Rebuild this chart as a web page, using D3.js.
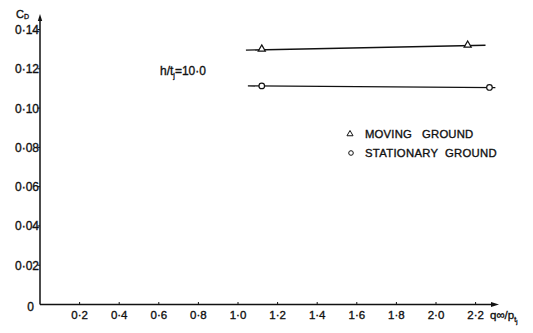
<!DOCTYPE html>
<html>
<head>
<meta charset="utf-8">
<script src="https://cdn.jsdelivr.net/npm/d3@7"></script>
<style>
  html, body { margin: 0; padding: 0; background: #fff; }
  svg text { font-family: "Liberation Sans", "DejaVu Sans", sans-serif; fill: #111; stroke: #111; stroke-width: 0.35; white-space: pre; }
</style>
</head>
<body>
<svg id="chart" width="533" height="333"></svg>
<script>
// Drag coefficient against dynamic-to-jet pressure ratio, h/t_j = 10.0
const xTicks = [0.2, 0.4, 0.6, 0.8, 1.0, 1.2, 1.4, 1.6, 1.8, 2.0, 2.2];
const xTickLabels = ["0·2", "0·4", "0·6", "0·8", "1·0", "1·2", "1·4", "1·6", "1·8", "2·0", "2·2"];
const yTicks = [0, 0.02, 0.04, 0.06, 0.08, 0.10, 0.12, 0.14];
const yTickLabels = ["0", "0·02", "0·04", "0·06", "0·08", "0·10", "0·12", "0·14"];

// measured points
const movingQ = [1.12, 2.16];
const movingCd = [0.1298, 0.1318];
const stationaryQ = [1.12, 2.27];
const stationaryCd = [0.1113, 0.1105];

// faired lines through each set
const movingFitQ = [1.04, 2.25];
const movingFitCd = [0.1295, 0.1320];
const stationaryFitQ = [1.05, 2.30];
const stationaryFitCd = [0.1113, 0.1104];

const svg = d3.select("#chart");
const ink = "#111";

const x = d3.scaleLinear().domain([0, 2.2]).range([40, 475.6]);
const y = d3.scaleLinear().domain([0, 0.14]).range([304.5, 29.5]);

// axes with arrowheads
svg.append("line").attr("x1", x(0)).attr("x2", 493).attr("y1", y(0)).attr("y2", y(0))
  .attr("stroke", ink).attr("stroke-width", 1.5);
svg.append("path").attr("d", `M499,${y(0)} L491,${y(0) - 2.5} L491,${y(0) + 2.5} Z`).attr("fill", ink);
svg.append("line").attr("x1", x(0)).attr("x2", x(0)).attr("y1", y(0)).attr("y2", 20)
  .attr("stroke", ink).attr("stroke-width", 1.5);
svg.append("path").attr("d", `M${x(0)},14 L${x(0) - 2.2},21 L${x(0) + 2.2},21 Z`).attr("fill", ink);

// x ticks and labels
const xg = svg.append("g");
xTicks.forEach((t, i) => {
  xg.append("line").attr("x1", x(t)).attr("x2", x(t)).attr("y1", y(0)).attr("y2", y(0) - 2.5)
    .attr("stroke", ink).attr("stroke-width", 1);
  xg.append("text").attr("x", x(t)).attr("y", 319).attr("text-anchor", "middle")
    .attr("font-size", 11.5).text(xTickLabels[i]);
});

// y ticks and labels
const yg = svg.append("g");
yTicks.forEach((t, i) => {
  if (t > 0) {
    yg.append("line").attr("x1", x(0) - 2.5).attr("x2", x(0)).attr("y1", y(t)).attr("y2", y(t))
      .attr("stroke", ink).attr("stroke-width", 1);
  }
  yg.append("text").attr("x", t === 0 ? 34 : 39).attr("y", t === 0 ? y(t) + 6 : y(t) + 4.5)
    .attr("text-anchor", "end").attr("font-size", 12).text(yTickLabels[i]);
});

// axis titles
const cd = svg.append("text").attr("x", 16).attr("y", 18).attr("font-size", 11);
cd.append("tspan").text("C");
cd.append("tspan").attr("font-size", 7).attr("dy", 1).text("D");

const xt = svg.append("text").attr("x", 490).attr("y", 319).attr("font-size", 11.5);
xt.append("tspan").text("q∞/p");
xt.append("tspan").attr("font-size", 7).attr("dy", 3).text("t");
xt.append("tspan").attr("font-size", 5.5).attr("dy", 2).text("j");

// parameter note
const note = svg.append("text").attr("x", 160).attr("y", 75).attr("font-size", 12);
note.append("tspan").text("h/t");
note.append("tspan").attr("font-size", 7).attr("dy", 3).text("j");
note.append("tspan").attr("dy", -3).text("=10·0");

// faired lines
const line = d3.line().x(d => x(d[0])).y(d => y(d[1]));
svg.append("path").datum(d3.zip(movingFitQ, movingFitCd)).attr("d", line)
  .attr("fill", "none").attr("stroke", ink).attr("stroke-width", 1.4);
svg.append("path").datum(d3.zip(stationaryFitQ, stationaryFitCd)).attr("d", line)
  .attr("fill", "none").attr("stroke", ink).attr("stroke-width", 1.4);

// markers
const tri = d3.symbol().type(d3.symbolTriangle).size(22);
d3.zip(movingQ, movingCd).forEach(d => {
  svg.append("path").attr("d", tri()).attr("transform", `translate(${x(d[0])},${y(d[1]) - 0.5})`)
    .attr("fill", "#fff").attr("stroke", ink).attr("stroke-width", 1.2);
});
d3.zip(stationaryQ, stationaryCd).forEach(d => {
  svg.append("circle").attr("cx", x(d[0])).attr("cy", y(d[1])).attr("r", 2.8)
    .attr("fill", "#fff").attr("stroke", ink).attr("stroke-width", 1.2);
});

// legend
svg.append("path").attr("d", d3.symbol().type(d3.symbolTriangle).size(16)())
  .attr("transform", "translate(350,134)").attr("fill", "#fff").attr("stroke", ink).attr("stroke-width", 1);
svg.append("text").attr("x", 365).attr("y", 138).attr("font-size", 11.3)
  .attr("letter-spacing", 0.2).text("MOVING   GROUND");
svg.append("circle").attr("cx", 351).attr("cy", 153).attr("r", 2.3)
  .attr("fill", "#fff").attr("stroke", ink).attr("stroke-width", 1);
svg.append("text").attr("x", 365).attr("y", 157).attr("font-size", 11.3)
  .attr("letter-spacing", 0.3).text("STATIONARY  GROUND");
</script>
</body>
</html>
